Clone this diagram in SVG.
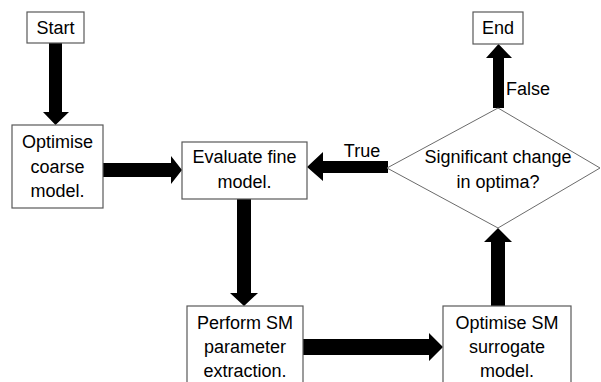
<svg xmlns="http://www.w3.org/2000/svg" width="601" height="382" viewBox="0 0 601 382">
<style>
.box{fill:#fff;stroke:#595959;stroke-width:1.2}
.dia{fill:#fff;stroke:#6b6b6b;stroke-width:1}
.t{font-family:"Liberation Sans",Arial,sans-serif;font-size:18px;fill:#000;text-anchor:middle}
.l{font-family:"Liberation Sans",Arial,sans-serif;font-size:18px;fill:#000}
.arr{fill:#000}
</style>
<rect width="601" height="382" fill="#fff"/>
<g id="connectors">
<polygon class="arr" points="49,43 62,43 62,112 69,112 55.5,125 43,112 49,112"/>
<polygon class="arr" points="103,163 171,163 171,156 182,170 171,184 171,177 103,177"/>
<polygon class="arr" points="388,161 323,161 323,152 307,167 323,181 323,173 388,173"/>
<polygon class="arr" points="237,199 251,199 251,293 258,293 244,306 230,293 237,293"/>
<polygon class="arr" points="303,339 429,339 429,333 443,347 429,361 429,355 303,355"/>
<polygon class="arr" points="491,306 491,242 484,242 498,228 512,242 505,242 505,306"/>
<polygon class="arr" points="493,108 493,58 486,58 498.5,44 512,58 504,58 504,108"/>
<text class="l" x="362" y="157" text-anchor="middle">True</text>
<text class="l" x="506" y="95">False</text>
</g>
<g id="start">
<rect class="box" x="27" y="12" width="57" height="31"/>
<text class="t" x="55.5" y="34">Start</text>
</g>
<g id="optimise-coarse">
<rect class="box" x="12" y="125" width="91" height="83"/>
<text class="t" x="57.5" y="148">Optimise</text>
<text class="t" x="57.5" y="173">coarse</text>
<text class="t" x="57.5" y="197">model.</text>
</g>
<g id="evaluate-fine">
<rect class="box" x="182" y="142" width="125" height="57"/>
<text class="t" x="244.5" y="163">Evaluate fine</text>
<text class="t" x="244.5" y="188">model.</text>
</g>
<g id="decision">
<polygon class="dia" points="498,108 600,168 498,228 387,168"/>
<text class="t" x="498" y="163">Significant change</text>
<text class="t" x="498" y="188">in optima?</text>
</g>
<g id="end">
<rect class="box" x="473" y="12" width="50" height="32"/>
<text class="t" x="498" y="34">End</text>
</g>
<g id="perform-sm">
<rect class="box" x="187" y="306" width="116" height="90"/>
<text class="t" x="245" y="329">Perform SM</text>
<text class="t" x="245" y="353">parameter</text>
<text class="t" x="245" y="377">extraction.</text>
</g>
<g id="optimise-sm">
<rect class="box" x="443" y="306" width="128" height="90"/>
<text class="t" x="507" y="329">Optimise SM</text>
<text class="t" x="507" y="353">surrogate</text>
<text class="t" x="507" y="377">model.</text>
</g>
</svg>
